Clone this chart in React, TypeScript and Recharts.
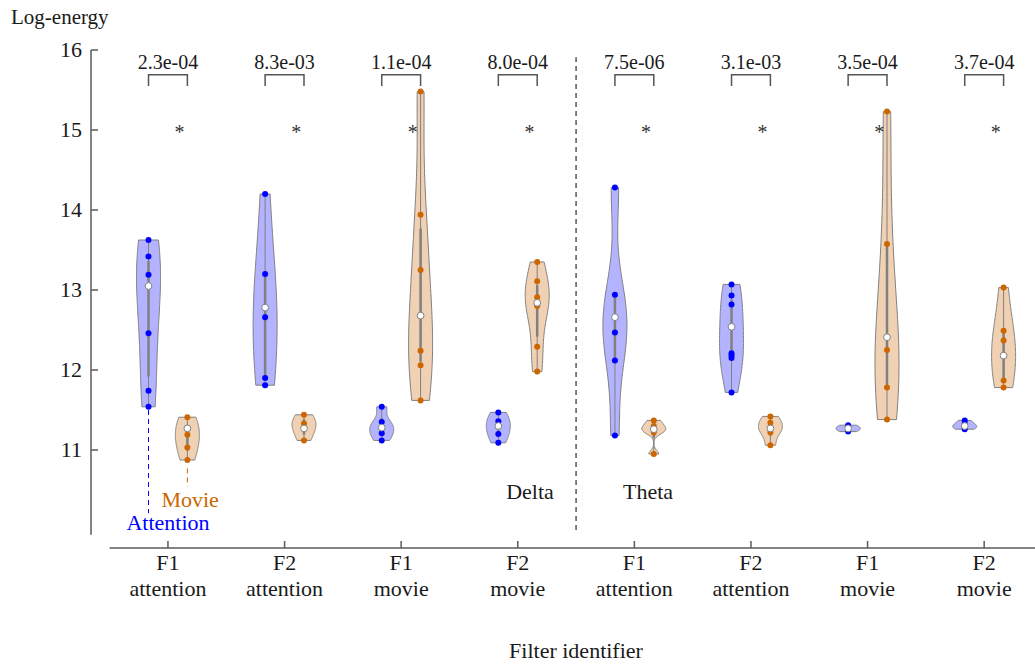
import React from "react"
import { ComposedChart, Scatter, XAxis, YAxis, ReferenceLine } from "recharts"

// group positions and labels
const GROUPS = [1, 2, 3, 4, 5, 6, 7, 8]
const FILTERS = ["F1", "F2", "F1", "F2", "F1", "F2", "F1", "F2"]
const CONDITIONS = ["attention", "attention", "movie", "movie", "attention", "attention", "movie", "movie"]
const P_VALUES = ["2.3e-04", "8.3e-03", "1.1e-04", "8.0e-04", "7.5e-06", "3.1e-03", "3.5e-04", "3.7e-04"]
const Y_TICKS = [11, 12, 13, 14, 15, 16]

// log-energy per filter
const ATTENTION_POINTS = [
  [13.625, 13.42, 13.19, 12.46, 11.74, 11.54],
  [14.2, 13.2, 12.66, 11.9, 11.81],
  [11.54, 11.35, 11.21, 11.12],
  [11.47, 11.36, 11.2, 11.09],
  [14.28, 12.94, 12.47, 12.12, 11.18],
  [13.07, 12.93, 12.82, 12.21, 12.18, 12.15, 11.72],
  [11.31, 11.29, 11.25, 11.23],
  [11.37, 11.33, 11.28, 11.26],
]
const ATTENTION_MEDIANS = [13.05, 12.78, 11.28, 11.3, 12.66, 12.54, 11.27, 11.3]

const MOVIE_POINTS = [
  [11.41, 11.19, 11.03, 10.875],
  [11.44, 11.33, 11.12],
  [15.48, 13.94, 13.25, 12.24, 12.06, 11.62],
  [13.35, 13.11, 12.91, 12.8, 12.29, 11.98],
  [11.37, 11.3, 11.22, 10.95],
  [11.42, 11.34, 11.22, 11.06],
  [15.23, 13.575, 12.25, 11.78, 11.38],
  [13.03, 12.49, 12.37, 11.87, 11.78],
]
const MOVIE_MEDIANS = [11.27, 11.27, 12.68, 12.84, 11.26, 11.27, 12.41, 12.18]

const BAND_LABELS = [
  { x: 4.105, y: 10.475, label: "Delta" },
  { x: 5.117, y: 10.475, label: "Theta" },
]

const X_MIN = 0.34
const X_MAX = 8.436
const Y_MIN = 9.775
const Y_MAX = 16
const OFFSET = 1 / 6
const HALF_WIDTH = 0.103

const BLUE = "#0000ff"
const BLUE_FILL = "#b3b3ff"
const ORANGE = "#cc6600"
const ORANGE_FILL = "#f0d1b3"
const GRAY = "#808080"
const AXIS = "#5a5a5a"
const TEXT = "#1a1a1a"
const FONT = '"Liberation Serif", "Times New Roman", serif'

function sortedCopy(v: number[]) {
  return [...v].sort((a, b) => a - b)
}

function median(v: number[]) {
  const s = sortedCopy(v)
  const m = Math.floor(s.length / 2)
  return s.length % 2 ? s[m] : (s[m - 1] + s[m]) / 2
}

// matlab style quantile
function quantile(v: number[], p: number) {
  const s = sortedCopy(v)
  const n = s.length
  const pos = p * n + 0.5
  if (pos <= 1) return s[0]
  if (pos >= n) return s[n - 1]
  const i = Math.floor(pos)
  return s[i - 1] + (pos - i) * (s[i] - s[i - 1])
}

function violinOutline(values: number[], center: number) {
  const s = sortedCopy(values)
  const n = s.length
  const med = median(s)
  let sig = median(s.map((v) => Math.abs(v - med))) / 0.6745
  if (sig <= 0) sig = s[n - 1] - s[0]
  const h = sig * Math.pow(4 / (3 * n), 0.2)
  const lo = s[0]
  const hi = s[n - 1]
  const steps = 80
  const ys: number[] = []
  const ds: number[] = []
  for (let i = 0; i <= steps; i++) {
    const y = lo + ((hi - lo) * i) / steps
    let d = 0
    s.forEach((v) => {
      const z = (y - v) / h
      d += Math.exp(-0.5 * z * z)
    })
    ys.push(y)
    ds.push(d)
  }
  const maxD = Math.max(...ds)
  const right = ys.map((y, i) => ({ x: center + (ds[i] / maxD) * HALF_WIDTH, y }))
  const left = ys.map((y, i) => ({ x: center - (ds[i] / maxD) * HALF_WIDTH, y })).reverse()
  return [...right, ...left]
}

function boxStats(values: number[]) {
  const q1 = quantile(values, 0.25)
  const q3 = quantile(values, 0.75)
  const iqr = q3 - q1
  const lowLimit = q1 - 1.5 * iqr
  const highLimit = q3 + 1.5 * iqr
  const lowW = Math.min(...values.filter((v) => v >= lowLimit))
  const highW = Math.max(...values.filter((v) => v <= highLimit))
  return { q1, q3, lowW, highW }
}

const noShape = () => <g />

const filledPath = (fill: string) => (props: any) => {
  const pts = props.points || []
  if (!pts.length) return <g />
  const d = pts.map((p: any, i: number) => `${i ? "L" : "M"}${p.x},${p.y}`).join(" ") + " Z"
  return <path d={d} fill={fill} stroke={GRAY} strokeWidth={1} />
}

const dot = (color: string) => (props: any) => (
  <circle cx={props.cx} cy={props.cy} r={3} fill={color} />
)

const medianDot = (props: any) => (
  <circle cx={props.cx} cy={props.cy} r={3.4} fill="#ffffff" stroke={GRAY} strokeWidth={1} />
)

const textShape = (size: number, color: string, dy: number) => (props: any) => (
  <text
    x={props.cx}
    y={props.cy}
    dy={dy}
    textAnchor="middle"
    fontFamily={FONT}
    fontSize={size}
    fill={color}
  >
    {props.payload.label}
  </text>
)

function XTick(props: any) {
  const { x, y, payload } = props
  const i = GROUPS.indexOf(payload.value)
  return (
    <g>
      <line x1={x} x2={x} y1={y} y2={y - 7} stroke={AXIS} strokeWidth={1.5} />
      <text x={x} y={y + 22} textAnchor="middle" fontFamily={FONT} fontSize={22} fill={TEXT}>
        {FILTERS[i]}
      </text>
      <text x={x} y={y + 48} textAnchor="middle" fontFamily={FONT} fontSize={22} fill={TEXT}>
        {CONDITIONS[i]}
      </text>
    </g>
  )
}

function YTick(props: any) {
  const { x, y, payload } = props
  return (
    <g>
      <line x1={x} x2={x + 7} y1={y} y2={y} stroke={AXIS} strokeWidth={1.5} />
      <text x={x - 9} y={y} dy={7} textAnchor="end" fontFamily={FONT} fontSize={22} fill={TEXT}>
        {payload.value}
      </text>
    </g>
  )
}

function YTitle() {
  return (
    <text x={11} y={24} fontFamily={FONT} fontSize={21} fill={TEXT}>
      Log-energy
    </text>
  )
}

function XTitle() {
  return (
    <text x={576} y={658} textAnchor="middle" fontFamily={FONT} fontSize={22} fill={TEXT}>
      Filter identifier
    </text>
  )
}

export default function App() {
  const attention = ATTENTION_POINTS.map((pts, i) => [...pts, ATTENTION_MEDIANS[i]])
  const movie = MOVIE_POINTS.map((pts, i) => [...pts, MOVIE_MEDIANS[i]])

  const series = [
    { values: attention, raw: ATTENTION_POINTS, medians: ATTENTION_MEDIANS, shift: -OFFSET, color: BLUE, fill: BLUE_FILL },
    { values: movie, raw: MOVIE_POINTS, medians: MOVIE_MEDIANS, shift: OFFSET, color: ORANGE, fill: ORANGE_FILL },
  ]

  return (
    <div style={{ position: "absolute", left: 0, top: 0, width: 1035, height: 666, overflow: "hidden", background: "#fff" }}>
      <ComposedChart width={1035} height={666} margin={{ top: 50, right: 0, bottom: 0, left: 0 }}>
        <XAxis
          type="number"
          dataKey="x"
          domain={[X_MIN, X_MAX]}
          allowDataOverflow
          ticks={GROUPS}
          interval={0}
          height={118}
          axisLine={false}
          tickLine={false}
          tickSize={0}
          tickMargin={0}
          tick={<XTick />}
          label={<XTitle />}
        />
        <YAxis
          type="number"
          dataKey="y"
          domain={[Y_MIN, Y_MAX]}
          allowDataOverflow
          ticks={Y_TICKS}
          interval={0}
          width={91}
          axisLine={false}
          tickLine={false}
          tickSize={0}
          tickMargin={0}
          tick={<YTick />}
          label={<YTitle />}
        />

        <ReferenceLine
          segment={[{ x: X_MIN, y: 9.94 }, { x: X_MIN, y: Y_MAX }]}
          stroke={AXIS}
          strokeWidth={1.5}
          ifOverflow="visible"
        />
        <ReferenceLine
          segment={[{ x: 0.5, y: Y_MIN }, { x: X_MAX, y: Y_MIN }]}
          stroke={AXIS}
          strokeWidth={1.5}
          ifOverflow="visible"
        />
        <ReferenceLine
          segment={[{ x: 4.5, y: 10 }, { x: 4.5, y: 15.91 }]}
          stroke="#000"
          strokeWidth={1}
          strokeDasharray="5 4"
          ifOverflow="visible"
        />

        {series.map((s) =>
          s.values.map((vals, i) => (
            <Scatter
              key={`violin-${s.color}-${i}`}
              data={violinOutline(vals, GROUPS[i] + s.shift)}
              line={filledPath(s.fill)}
              lineType="joint"
              shape={noShape}
              isAnimationActive={false}
            />
          ))
        )}

        {series.map((s) =>
          s.values.map((vals, i) => {
            const b = boxStats(vals)
            const x = GROUPS[i] + s.shift
            return (
              <Scatter
                key={`whisker-${s.color}-${i}`}
                data={[{ x, y: b.lowW }, { x, y: b.highW }]}
                line={{ stroke: GRAY, strokeWidth: 1 }}
                lineType="joint"
                shape={noShape}
                isAnimationActive={false}
              />
            )
          })
        )}
        {series.map((s) =>
          s.values.map((vals, i) => {
            const b = boxStats(vals)
            const x = GROUPS[i] + s.shift
            return (
              <Scatter
                key={`box-${s.color}-${i}`}
                data={[{ x, y: b.q1 }, { x, y: b.q3 }]}
                line={{ stroke: GRAY, strokeWidth: 2.5 }}
                lineType="joint"
                shape={noShape}
                isAnimationActive={false}
              />
            )
          })
        )}

        {series.map((s) => (
          <Scatter
            key={`points-${s.color}`}
            data={s.raw.flatMap((pts, i) => pts.map((y) => ({ x: GROUPS[i] + s.shift, y })))}
            shape={dot(s.color)}
            isAnimationActive={false}
          />
        ))}
        {series.map((s) => (
          <Scatter
            key={`median-${s.color}`}
            data={s.medians.map((y, i) => ({ x: GROUPS[i] + s.shift, y }))}
            shape={medianDot}
            isAnimationActive={false}
          />
        ))}

        {/* significance brackets */}
        {GROUPS.map((g) => (
          <Scatter
            key={`bracket-${g}`}
            data={[
              { x: g - OFFSET, y: 15.55 },
              { x: g - OFFSET, y: 15.69 },
              { x: g + OFFSET, y: 15.69 },
              { x: g + OFFSET, y: 15.55 },
            ]}
            line={{ stroke: "#555", strokeWidth: 1.5 }}
            lineType="joint"
            shape={noShape}
            isAnimationActive={false}
          />
        ))}
        <Scatter
          data={P_VALUES.map((p, i) => ({ x: GROUPS[i], y: 15.84, label: p }))}
          shape={textShape(20, TEXT, 6)}
          isAnimationActive={false}
        />
        <Scatter
          data={GROUPS.map((g) => ({ x: g + 0.1, y: 15, label: "*" }))}
          shape={textShape(20, "#333", 9)}
          isAnimationActive={false}
        />
        <Scatter
          data={BAND_LABELS}
          shape={textShape(22, TEXT, 7)}
          isAnimationActive={false}
        />

        {/* condition legend */}
        <ReferenceLine
          segment={[{ x: 1 - OFFSET, y: 11.5 }, { x: 1 - OFFSET, y: 10.21 }]}
          stroke={BLUE}
          strokeDasharray="5 4"
          ifOverflow="visible"
        />
        <ReferenceLine
          segment={[{ x: 1 + OFFSET, y: 10.77 }, { x: 1 + OFFSET, y: 10.54 }]}
          stroke={ORANGE}
          strokeDasharray="5 4"
          ifOverflow="visible"
        />
        <Scatter
          data={[{ x: 1.0, y: 10.09, label: "Attention" }]}
          shape={textShape(22, BLUE, 7)}
          isAnimationActive={false}
        />
        <Scatter
          data={[{ x: 1.19, y: 10.375, label: "Movie" }]}
          shape={textShape(22, ORANGE, 7)}
          isAnimationActive={false}
        />
      </ComposedChart>
    </div>
  )
}
